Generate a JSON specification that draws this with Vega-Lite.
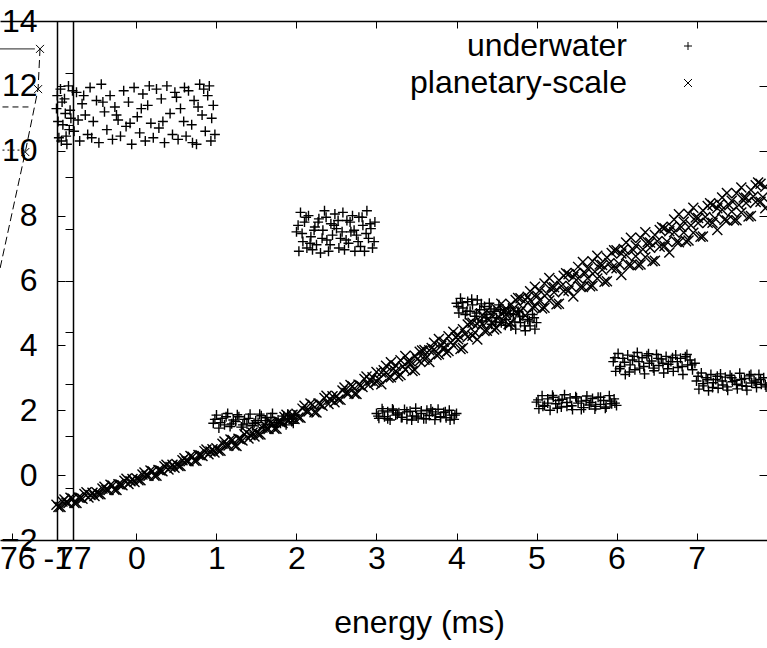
{
"$schema":"https://vega.github.io/schema/vega-lite/v6.json",
"width":767,"height":519,
"autosize":{"type":"none"},
"padding":{"left":0,"top":21,"right":0,"bottom":108},
"background":"white",
"config":{"view":{"stroke":null},"font":"Liberation Sans","axis":{"grid":false,"domainColor":"black","tickColor":"black","labelColor":"black","domainWidth":1.5,"tickWidth":1}},
"datasets":{
"pts":[
{"s":"u","x":-1.00,"y":11.3},{"s":"u","x":-0.97,"y":10.4},{"s":"u","x":-0.95,"y":11.9},{"s":"u","x":-0.92,"y":10.8},{"s":"u","x":-0.90,"y":11.6},{"s":"u","x":-0.87,"y":10.2},{"s":"u","x":-0.85,"y":12.0},{"s":"u","x":-0.82,"y":11.0},{"s":"u","x":-0.78,"y":10.6},{"s":"u","x":-0.75,"y":11.8},
{"s":"u","x":-0.71,"y":10.3},{"s":"u","x":-0.68,"y":11.45},{"s":"u","x":-0.64,"y":11.1},{"s":"u","x":-0.61,"y":10.5},{"s":"u","x":-0.58,"y":11.95},{"s":"u","x":-0.54,"y":10.9},{"s":"u","x":-0.50,"y":11.55},{"s":"u","x":-0.47,"y":10.25},{"s":"u","x":-0.44,"y":12.05},{"s":"u","x":-0.40,"y":11.2},
{"s":"u","x":-0.37,"y":10.65},{"s":"u","x":-0.33,"y":11.7},{"s":"u","x":-0.30,"y":10.35},{"s":"u","x":-0.27,"y":11.35},{"s":"u","x":-0.23,"y":10.95},{"s":"u","x":-0.20,"y":10.45},{"s":"u","x":-0.16,"y":11.85},{"s":"u","x":-0.13,"y":10.75},{"s":"u","x":-0.10,"y":11.5},{"s":"u","x":-0.06,"y":10.2},
{"s":"u","x":-0.03,"y":11.95},{"s":"u","x":0.01,"y":11.05},{"s":"u","x":0.04,"y":10.55},{"s":"u","x":0.08,"y":11.75},{"s":"u","x":0.11,"y":10.3},{"s":"u","x":0.14,"y":11.4},{"s":"u","x":0.18,"y":10.85},{"s":"u","x":0.21,"y":10.4},{"s":"u","x":0.25,"y":11.9},{"s":"u","x":0.28,"y":10.7},
{"s":"u","x":0.31,"y":11.6},{"s":"u","x":0.35,"y":10.25},{"s":"u","x":0.38,"y":12.0},{"s":"u","x":0.42,"y":11.15},{"s":"u","x":0.45,"y":10.5},{"s":"u","x":0.48,"y":11.8},{"s":"u","x":0.52,"y":10.35},{"s":"u","x":0.55,"y":11.3},{"s":"u","x":0.59,"y":10.9},{"s":"u","x":0.62,"y":10.45},
{"s":"u","x":0.65,"y":11.85},{"s":"u","x":0.69,"y":10.8},{"s":"u","x":0.72,"y":11.55},{"s":"u","x":0.75,"y":10.2},{"s":"u","x":0.79,"y":12.05},{"s":"u","x":0.82,"y":11.1},{"s":"u","x":0.86,"y":10.6},{"s":"u","x":0.89,"y":11.7},{"s":"u","x":0.93,"y":10.3},{"s":"u","x":0.96,"y":11.4},
{"s":"u","x":-0.98,"y":10.9},{"s":"u","x":-0.93,"y":11.5},{"s":"u","x":-0.88,"y":10.45},{"s":"u","x":-0.83,"y":11.25},{"s":"u","x":0.91,"y":12.0},{"s":"u","x":0.94,"y":11.0},
{"s":"u","x":-0.99,"y":11.7},{"s":"u","x":-0.94,"y":10.3},{"s":"u","x":-0.89,"y":11.15},{"s":"u","x":-0.84,"y":10.65},{"s":"u","x":-0.80,"y":11.85},{"s":"u","x":-0.73,"y":10.95},{"s":"u","x":-0.66,"y":11.7},{"s":"u","x":-0.56,"y":10.4},{"s":"u","x":-0.42,"y":11.5},{"s":"u","x":-0.25,"y":11.1},
{"s":"u","x":-0.08,"y":10.85},{"s":"u","x":0.06,"y":11.3},{"s":"u","x":0.16,"y":12.0},{"s":"u","x":0.33,"y":10.9},{"s":"u","x":0.50,"y":11.65},{"s":"u","x":0.60,"y":11.95},{"s":"u","x":0.70,"y":10.25},{"s":"u","x":0.77,"y":11.35},{"s":"u","x":0.84,"y":11.9},{"s":"u","x":0.98,"y":10.5},
{"s":"u","x":2.00,"y":7.5},{"s":"u","x":2.03,"y":6.9},{"s":"u","x":2.05,"y":8.1},{"s":"u","x":2.08,"y":7.2},{"s":"u","x":2.10,"y":7.8},{"s":"u","x":2.13,"y":7.0},{"s":"u","x":2.15,"y":8.0},{"s":"u","x":2.18,"y":7.35},{"s":"u","x":2.20,"y":6.95},{"s":"u","x":2.23,"y":7.65},
{"s":"u","x":2.25,"y":7.1},{"s":"u","x":2.28,"y":7.9},{"s":"u","x":2.30,"y":6.85},{"s":"u","x":2.33,"y":7.55},{"s":"u","x":2.35,"y":8.15},{"s":"u","x":2.38,"y":7.25},{"s":"u","x":2.40,"y":6.9},{"s":"u","x":2.43,"y":7.75},{"s":"u","x":2.45,"y":7.4},{"s":"u","x":2.48,"y":8.05},
{"s":"u","x":2.50,"y":7.6},{"s":"u","x":2.53,"y":7.0},{"s":"u","x":2.55,"y":7.3},{"s":"u","x":2.58,"y":8.1},{"s":"u","x":2.60,"y":6.95},{"s":"u","x":2.63,"y":7.85},{"s":"u","x":2.65,"y":7.15},{"s":"u","x":2.68,"y":7.5},{"s":"u","x":2.70,"y":8.0},{"s":"u","x":2.73,"y":6.9},
{"s":"u","x":2.75,"y":7.4},{"s":"u","x":2.78,"y":7.95},{"s":"u","x":2.80,"y":7.05},{"s":"u","x":2.83,"y":7.7},{"s":"u","x":2.85,"y":6.9},{"s":"u","x":2.88,"y":8.15},{"s":"u","x":2.90,"y":7.3},{"s":"u","x":2.93,"y":7.6},{"s":"u","x":2.95,"y":7.0},{"s":"u","x":2.98,"y":7.8},
{"s":"u","x":2.02,"y":7.7},{"s":"u","x":2.07,"y":7.45},{"s":"u","x":2.12,"y":7.95},{"s":"u","x":2.17,"y":7.15},{"s":"u","x":2.22,"y":7.55},{"s":"u","x":2.27,"y":7.8},{"s":"u","x":2.32,"y":7.3},{"s":"u","x":2.37,"y":7.95},{"s":"u","x":2.42,"y":7.1},{"s":"u","x":2.47,"y":7.7},
{"s":"u","x":2.52,"y":7.85},{"s":"u","x":2.57,"y":7.5},{"s":"u","x":2.62,"y":7.25},{"s":"u","x":2.67,"y":7.8},{"s":"u","x":2.72,"y":7.55},{"s":"u","x":2.77,"y":7.2},{"s":"u","x":2.82,"y":7.95},{"s":"u","x":2.87,"y":7.45},{"s":"u","x":2.92,"y":7.75},{"s":"u","x":2.97,"y":7.2},
{"s":"u","x":0.96,"y":1.6},{"s":"u","x":1.00,"y":1.85},{"s":"u","x":1.03,"y":1.45},{"s":"u","x":1.07,"y":1.75},{"s":"u","x":1.10,"y":1.55},{"s":"u","x":1.14,"y":1.9},{"s":"u","x":1.17,"y":1.5},{"s":"u","x":1.21,"y":1.7},
{"s":"u","x":1.24,"y":1.65},{"s":"u","x":1.28,"y":1.8},{"s":"u","x":1.31,"y":1.48},{"s":"u","x":1.35,"y":1.72},{"s":"u","x":1.38,"y":1.58},{"s":"u","x":1.42,"y":1.88},{"s":"u","x":1.45,"y":1.52},{"s":"u","x":1.49,"y":1.68},
{"s":"u","x":1.52,"y":1.62},{"s":"u","x":1.56,"y":1.83},{"s":"u","x":1.59,"y":1.46},{"s":"u","x":1.63,"y":1.77},{"s":"u","x":1.66,"y":1.56},{"s":"u","x":1.70,"y":1.9},{"s":"u","x":1.73,"y":1.5},{"s":"u","x":1.77,"y":1.7},
{"s":"u","x":1.80,"y":1.6},{"s":"u","x":1.84,"y":1.82},{"s":"u","x":1.87,"y":1.55},{"s":"u","x":1.91,"y":1.75},{"s":"u","x":1.94,"y":1.65},{"s":"u","x":1.98,"y":1.85},
{"s":"u","x":0.98,"y":1.72},{"s":"u","x":1.05,"y":1.62},{"s":"u","x":1.12,"y":1.8},{"s":"u","x":1.19,"y":1.58},{"s":"u","x":1.26,"y":1.86},{"s":"u","x":1.33,"y":1.55},{"s":"u","x":1.40,"y":1.75},{"s":"u","x":1.47,"y":1.6},{"s":"u","x":1.54,"y":1.88},{"s":"u","x":1.61,"y":1.68},
{"s":"u","x":1.68,"y":1.78},{"s":"u","x":1.75,"y":1.62},{"s":"u","x":1.82,"y":1.72},{"s":"u","x":1.89,"y":1.88},{"s":"u","x":1.96,"y":1.6},
{"s":"u","x":3.00,"y":1.9},{"s":"u","x":3.03,"y":1.75},{"s":"u","x":3.07,"y":2.05},{"s":"u","x":3.10,"y":1.8},{"s":"u","x":3.14,"y":1.95},{"s":"u","x":3.17,"y":1.7},{"s":"u","x":3.21,"y":2.0},{"s":"u","x":3.24,"y":1.85},
{"s":"u","x":3.28,"y":1.92},{"s":"u","x":3.31,"y":1.78},{"s":"u","x":3.35,"y":2.02},{"s":"u","x":3.38,"y":1.72},{"s":"u","x":3.42,"y":1.97},{"s":"u","x":3.45,"y":1.82},{"s":"u","x":3.49,"y":2.06},{"s":"u","x":3.52,"y":1.76},
{"s":"u","x":3.56,"y":1.9},{"s":"u","x":3.59,"y":1.74},{"s":"u","x":3.63,"y":2.0},{"s":"u","x":3.66,"y":1.84},{"s":"u","x":3.70,"y":1.95},{"s":"u","x":3.73,"y":1.71},{"s":"u","x":3.77,"y":2.03},{"s":"u","x":3.80,"y":1.8},
{"s":"u","x":3.84,"y":1.93},{"s":"u","x":3.87,"y":1.77},{"s":"u","x":3.91,"y":2.0},{"s":"u","x":3.94,"y":1.85},{"s":"u","x":3.97,"y":1.72},{"s":"u","x":4.00,"y":1.9},
{"s":"u","x":3.02,"y":1.82},{"s":"u","x":3.08,"y":1.98},{"s":"u","x":3.14,"y":1.74},{"s":"u","x":3.20,"y":2.04},{"s":"u","x":3.26,"y":1.88},{"s":"u","x":3.32,"y":1.78},{"s":"u","x":3.38,"y":1.95},{"s":"u","x":3.44,"y":1.7},{"s":"u","x":3.50,"y":1.82},
{"s":"u","x":3.56,"y":1.98},{"s":"u","x":3.62,"y":1.74},{"s":"u","x":3.68,"y":2.04},{"s":"u","x":3.74,"y":1.88},{"s":"u","x":3.80,"y":1.78},{"s":"u","x":3.86,"y":1.95},{"s":"u","x":3.92,"y":1.7},{"s":"u","x":3.98,"y":1.85},
{"s":"u","x":4.00,"y":5.3},{"s":"u","x":4.03,"y":5.0},{"s":"u","x":4.05,"y":5.45},{"s":"u","x":4.08,"y":5.15},{"s":"u","x":4.11,"y":4.95},{"s":"u","x":4.14,"y":5.35},{"s":"u","x":4.17,"y":5.05},{"s":"u","x":4.20,"y":5.25},{"s":"u","x":4.23,"y":4.9},{"s":"u","x":4.26,"y":5.4},
{"s":"u","x":4.29,"y":5.1},{"s":"u","x":4.32,"y":4.75},{"s":"u","x":4.35,"y":5.2},{"s":"u","x":4.38,"y":4.95},{"s":"u","x":4.41,"y":5.3},{"s":"u","x":4.44,"y":4.65},{"s":"u","x":4.47,"y":5.05},{"s":"u","x":4.50,"y":4.85},{"s":"u","x":4.53,"y":5.25},{"s":"u","x":4.56,"y":4.7},
{"s":"u","x":4.59,"y":5.0},{"s":"u","x":4.62,"y":4.8},{"s":"u","x":4.65,"y":5.15},{"s":"u","x":4.68,"y":4.6},{"s":"u","x":4.71,"y":4.95},{"s":"u","x":4.74,"y":4.5},{"s":"u","x":4.77,"y":5.05},{"s":"u","x":4.80,"y":4.7},{"s":"u","x":4.83,"y":4.9},{"s":"u","x":4.86,"y":4.45},
{"s":"u","x":4.89,"y":4.8},{"s":"u","x":4.92,"y":4.6},{"s":"u","x":4.95,"y":4.95},{"s":"u","x":4.98,"y":4.5},{"s":"u","x":5.00,"y":4.7},
{"s":"u","x":4.02,"y":5.2},{"s":"u","x":4.07,"y":5.32},{"s":"u","x":4.13,"y":5.05},{"s":"u","x":4.19,"y":5.42},{"s":"u","x":4.25,"y":5.0},{"s":"u","x":4.31,"y":5.28},{"s":"u","x":4.37,"y":4.85},{"s":"u","x":4.43,"y":5.12},{"s":"u","x":4.49,"y":4.72},
{"s":"u","x":4.55,"y":5.1},{"s":"u","x":4.61,"y":4.62},{"s":"u","x":4.67,"y":4.98},{"s":"u","x":4.73,"y":4.72},{"s":"u","x":4.79,"y":4.88},{"s":"u","x":4.85,"y":4.6},{"s":"u","x":4.91,"y":4.75},{"s":"u","x":4.97,"y":4.85},
{"s":"u","x":5.00,"y":2.25},{"s":"u","x":5.03,"y":2.05},{"s":"u","x":5.07,"y":2.45},{"s":"u","x":5.10,"y":2.15},{"s":"u","x":5.14,"y":2.35},{"s":"u","x":5.17,"y":2.0},{"s":"u","x":5.21,"y":2.4},{"s":"u","x":5.24,"y":2.2},
{"s":"u","x":5.28,"y":2.3},{"s":"u","x":5.31,"y":2.1},{"s":"u","x":5.35,"y":2.48},{"s":"u","x":5.38,"y":2.12},{"s":"u","x":5.42,"y":2.38},{"s":"u","x":5.45,"y":2.02},{"s":"u","x":5.49,"y":2.42},{"s":"u","x":5.52,"y":2.22},
{"s":"u","x":5.56,"y":2.28},{"s":"u","x":5.59,"y":2.08},{"s":"u","x":5.63,"y":2.44},{"s":"u","x":5.66,"y":2.16},{"s":"u","x":5.70,"y":2.36},{"s":"u","x":5.73,"y":2.04},{"s":"u","x":5.77,"y":2.4},{"s":"u","x":5.80,"y":2.18},
{"s":"u","x":5.84,"y":2.3},{"s":"u","x":5.87,"y":2.1},{"s":"u","x":5.91,"y":2.45},{"s":"u","x":5.94,"y":2.2},{"s":"u","x":5.97,"y":2.35},{"s":"u","x":6.00,"y":2.15},
{"s":"u","x":5.02,"y":2.32},{"s":"u","x":5.08,"y":2.12},{"s":"u","x":5.14,"y":2.22},{"s":"u","x":5.20,"y":2.46},{"s":"u","x":5.26,"y":2.06},{"s":"u","x":5.32,"y":2.34},{"s":"u","x":5.38,"y":2.24},{"s":"u","x":5.44,"y":2.14},{"s":"u","x":5.50,"y":2.38},
{"s":"u","x":5.56,"y":2.02},{"s":"u","x":5.62,"y":2.3},{"s":"u","x":5.68,"y":2.24},{"s":"u","x":5.74,"y":2.12},{"s":"u","x":5.80,"y":2.4},{"s":"u","x":5.86,"y":2.06},{"s":"u","x":5.92,"y":2.28},{"s":"u","x":5.98,"y":2.22},
{"s":"u","x":5.96,"y":3.5},{"s":"u","x":5.99,"y":3.2},{"s":"u","x":6.02,"y":3.75},{"s":"u","x":6.05,"y":3.35},{"s":"u","x":6.08,"y":3.6},{"s":"u","x":6.11,"y":3.1},{"s":"u","x":6.14,"y":3.7},{"s":"u","x":6.17,"y":3.4},
{"s":"u","x":6.20,"y":3.55},{"s":"u","x":6.23,"y":3.25},{"s":"u","x":6.26,"y":3.78},{"s":"u","x":6.29,"y":3.3},{"s":"u","x":6.32,"y":3.62},{"s":"u","x":6.35,"y":3.12},{"s":"u","x":6.38,"y":3.68},{"s":"u","x":6.41,"y":3.45},
{"s":"u","x":6.44,"y":3.52},{"s":"u","x":6.47,"y":3.22},{"s":"u","x":6.50,"y":3.72},{"s":"u","x":6.53,"y":3.38},{"s":"u","x":6.56,"y":3.58},{"s":"u","x":6.59,"y":3.15},{"s":"u","x":6.62,"y":3.66},{"s":"u","x":6.65,"y":3.42},
{"s":"u","x":6.68,"y":3.5},{"s":"u","x":6.71,"y":3.2},{"s":"u","x":6.74,"y":3.7},{"s":"u","x":6.77,"y":3.32},{"s":"u","x":6.80,"y":3.6},{"s":"u","x":6.83,"y":3.1},{"s":"u","x":6.86,"y":3.65},{"s":"u","x":6.89,"y":3.4},{"s":"u","x":6.92,"y":3.55},{"s":"u","x":6.95,"y":3.25},{"s":"u","x":6.98,"y":3.45},
{"s":"u","x":5.98,"y":3.62},{"s":"u","x":6.04,"y":3.28},{"s":"u","x":6.10,"y":3.48},{"s":"u","x":6.16,"y":3.18},{"s":"u","x":6.22,"y":3.66},{"s":"u","x":6.28,"y":3.5},{"s":"u","x":6.34,"y":3.35},{"s":"u","x":6.40,"y":3.74},{"s":"u","x":6.46,"y":3.3},
{"s":"u","x":6.52,"y":3.6},{"s":"u","x":6.58,"y":3.45},{"s":"u","x":6.64,"y":3.28},{"s":"u","x":6.70,"y":3.62},{"s":"u","x":6.76,"y":3.5},{"s":"u","x":6.82,"y":3.35},{"s":"u","x":6.88,"y":3.72},{"s":"u","x":6.94,"y":3.4},
{"s":"u","x":7.00,"y":2.9},{"s":"u","x":7.03,"y":2.65},{"s":"u","x":7.06,"y":3.15},{"s":"u","x":7.09,"y":2.75},{"s":"u","x":7.12,"y":3.0},{"s":"u","x":7.15,"y":2.6},{"s":"u","x":7.18,"y":3.1},{"s":"u","x":7.21,"y":2.85},
{"s":"u","x":7.24,"y":2.95},{"s":"u","x":7.27,"y":2.68},{"s":"u","x":7.30,"y":3.12},{"s":"u","x":7.33,"y":2.78},{"s":"u","x":7.36,"y":3.02},{"s":"u","x":7.39,"y":2.62},{"s":"u","x":7.42,"y":3.08},{"s":"u","x":7.45,"y":2.88},
{"s":"u","x":7.48,"y":2.92},{"s":"u","x":7.51,"y":2.66},{"s":"u","x":7.54,"y":3.14},{"s":"u","x":7.57,"y":2.76},{"s":"u","x":7.60,"y":2.98},{"s":"u","x":7.63,"y":2.62},{"s":"u","x":7.66,"y":3.06},{"s":"u","x":7.69,"y":2.84},
{"s":"u","x":7.72,"y":2.9},{"s":"u","x":7.75,"y":2.7},{"s":"u","x":7.78,"y":3.1},{"s":"u","x":7.81,"y":2.8},{"s":"u","x":7.84,"y":3.0},{"s":"u","x":7.87,"y":2.72},
{"s":"u","x":7.02,"y":3.05},{"s":"u","x":7.08,"y":2.82},{"s":"u","x":7.14,"y":2.94},{"s":"u","x":7.20,"y":2.7},{"s":"u","x":7.26,"y":3.05},{"s":"u","x":7.32,"y":2.9},{"s":"u","x":7.38,"y":2.72},{"s":"u","x":7.44,"y":3.0},
{"s":"u","x":7.50,"y":2.8},{"s":"u","x":7.56,"y":2.95},{"s":"u","x":7.62,"y":2.74},{"s":"u","x":7.68,"y":3.1},{"s":"u","x":7.74,"y":2.86},{"s":"u","x":7.80,"y":2.95},{"s":"u","x":7.86,"y":2.78},
{"s":"p","x":-1.00,"y":-0.91},{"s":"p","x":-0.95,"y":-0.98},{"s":"p","x":-0.90,"y":-0.75},{"s":"p","x":-0.85,"y":-0.86},{"s":"p","x":-0.80,"y":-0.72},{"s":"p","x":-0.75,"y":-0.86},{"s":"p","x":-0.70,"y":-0.70},{"s":"p","x":-0.65,"y":-0.58},{"s":"p","x":-0.60,"y":-0.69},{"s":"p","x":-0.55,"y":-0.54},
{"s":"p","x":-0.50,"y":-0.53},{"s":"p","x":-0.45,"y":-0.59},{"s":"p","x":-0.40,"y":-0.36},{"s":"p","x":-0.35,"y":-0.46},{"s":"p","x":-0.30,"y":-0.32},{"s":"p","x":-0.25,"y":-0.46},{"s":"p","x":-0.20,"y":-0.29},{"s":"p","x":-0.15,"y":-0.17},{"s":"p","x":-0.10,"y":-0.27},{"s":"p","x":-0.05,"y":-0.12},
{"s":"p","x":0.00,"y":-0.10},{"s":"p","x":0.05,"y":-0.16},{"s":"p","x":0.10,"y":0.08},{"s":"p","x":0.15,"y":-0.02},{"s":"p","x":0.20,"y":0.12},{"s":"p","x":0.25,"y":-0.02},{"s":"p","x":0.30,"y":0.14},{"s":"p","x":0.35,"y":0.27},{"s":"p","x":0.40,"y":0.17},{"s":"p","x":0.45,"y":0.32},
{"s":"p","x":0.50,"y":0.34},{"s":"p","x":0.55,"y":0.28},{"s":"p","x":0.60,"y":0.52},{"s":"p","x":0.65,"y":0.43},{"s":"p","x":0.70,"y":0.57},{"s":"p","x":0.75,"y":0.44},{"s":"p","x":0.80,"y":0.61},{"s":"p","x":0.85,"y":0.74},{"s":"p","x":0.90,"y":0.64},{"s":"p","x":0.95,"y":0.80},
{"s":"p","x":1.00,"y":0.83},{"s":"p","x":1.05,"y":0.75},{"s":"p","x":1.10,"y":1.04},{"s":"p","x":1.15,"y":0.91},{"s":"p","x":1.20,"y":1.08},{"s":"p","x":1.25,"y":0.90},{"s":"p","x":1.30,"y":1.10},{"s":"p","x":1.35,"y":1.26},{"s":"p","x":1.40,"y":1.13},{"s":"p","x":1.45,"y":1.31},
{"s":"p","x":1.50,"y":1.33},{"s":"p","x":1.55,"y":1.25},{"s":"p","x":1.60,"y":1.55},{"s":"p","x":1.65,"y":1.42},{"s":"p","x":1.70,"y":1.60},{"s":"p","x":1.75,"y":1.43},{"s":"p","x":1.80,"y":1.63},{"s":"p","x":1.85,"y":1.79},{"s":"p","x":1.90,"y":1.67},{"s":"p","x":1.95,"y":1.86},
{"s":"p","x":2.00,"y":1.89},{"s":"p","x":2.05,"y":1.77},{"s":"p","x":2.10,"y":2.14},{"s":"p","x":2.15,"y":1.96},{"s":"p","x":2.20,"y":2.17},{"s":"p","x":2.25,"y":1.93},{"s":"p","x":2.30,"y":2.18},{"s":"p","x":2.35,"y":2.38},{"s":"p","x":2.40,"y":2.19},{"s":"p","x":2.45,"y":2.43},
{"s":"p","x":2.50,"y":2.44},{"s":"p","x":2.55,"y":2.32},{"s":"p","x":2.60,"y":2.70},{"s":"p","x":2.65,"y":2.52},{"s":"p","x":2.70,"y":2.74},{"s":"p","x":2.75,"y":2.50},{"s":"p","x":2.80,"y":2.76},{"s":"p","x":2.85,"y":2.96},{"s":"p","x":2.90,"y":2.78},{"s":"p","x":2.95,"y":3.02},
{"s":"p","x":-0.975,"y":-0.98},{"s":"p","x":-0.925,"y":-0.81},{"s":"p","x":-0.875,"y":-0.85},{"s":"p","x":-0.825,"y":-0.70},{"s":"p","x":-0.775,"y":-0.86},{"s":"p","x":-0.725,"y":-0.69},{"s":"p","x":-0.675,"y":-0.73},{"s":"p","x":-0.625,"y":-0.53},{"s":"p","x":-0.575,"y":-0.61},{"s":"p","x":-0.525,"y":-0.64},
{"s":"p","x":-0.475,"y":-0.59},{"s":"p","x":-0.425,"y":-0.41},{"s":"p","x":-0.375,"y":-0.46},{"s":"p","x":-0.325,"y":-0.30},{"s":"p","x":-0.275,"y":-0.45},{"s":"p","x":-0.225,"y":-0.28},{"s":"p","x":-0.175,"y":-0.31},{"s":"p","x":-0.125,"y":-0.11},{"s":"p","x":-0.075,"y":-0.19},{"s":"p","x":-0.025,"y":-0.21},
{"s":"p","x":0.025,"y":-0.16},{"s":"p","x":0.075,"y":0.02},{"s":"p","x":0.125,"y":-0.02},{"s":"p","x":0.175,"y":0.14},{"s":"p","x":0.225,"y":-0.02},{"s":"p","x":0.275,"y":0.16},{"s":"p","x":0.325,"y":0.12},{"s":"p","x":0.375,"y":0.32},{"s":"p","x":0.425,"y":0.25},{"s":"p","x":0.475,"y":0.23},
{"s":"p","x":0.525,"y":0.28},{"s":"p","x":0.575,"y":0.46},{"s":"p","x":0.625,"y":0.43},{"s":"p","x":0.675,"y":0.59},{"s":"p","x":0.725,"y":0.44},{"s":"p","x":0.775,"y":0.62},{"s":"p","x":0.825,"y":0.59},{"s":"p","x":0.875,"y":0.79},{"s":"p","x":0.925,"y":0.73},{"s":"p","x":0.975,"y":0.70},
{"s":"p","x":1.025,"y":0.75},{"s":"p","x":1.075,"y":0.97},{"s":"p","x":1.125,"y":0.91},{"s":"p","x":1.175,"y":1.10},{"s":"p","x":1.225,"y":0.91},{"s":"p","x":1.275,"y":1.12},{"s":"p","x":1.325,"y":1.07},{"s":"p","x":1.375,"y":1.32},{"s":"p","x":1.425,"y":1.23},{"s":"p","x":1.475,"y":1.19},
{"s":"p","x":1.525,"y":1.25},{"s":"p","x":1.575,"y":1.47},{"s":"p","x":1.625,"y":1.42},{"s":"p","x":1.675,"y":1.62},{"s":"p","x":1.725,"y":1.43},{"s":"p","x":1.775,"y":1.65},{"s":"p","x":1.825,"y":1.61},{"s":"p","x":1.875,"y":1.86},{"s":"p","x":1.925,"y":1.77},{"s":"p","x":1.975,"y":1.73},
{"s":"p","x":2.025,"y":1.78},{"s":"p","x":2.075,"y":2.05},{"s":"p","x":2.125,"y":1.97},{"s":"p","x":2.175,"y":2.21},{"s":"p","x":2.225,"y":1.94},{"s":"p","x":2.275,"y":2.21},{"s":"p","x":2.325,"y":2.14},{"s":"p","x":2.375,"y":2.45},{"s":"p","x":2.425,"y":2.32},{"s":"p","x":2.475,"y":2.25},
{"s":"p","x":2.525,"y":2.33},{"s":"p","x":2.575,"y":2.61},{"s":"p","x":2.625,"y":2.53},{"s":"p","x":2.675,"y":2.78},{"s":"p","x":2.725,"y":2.51},{"s":"p","x":2.775,"y":2.79},{"s":"p","x":2.825,"y":2.72},{"s":"p","x":2.875,"y":3.04},{"s":"p","x":2.925,"y":2.91},{"s":"p","x":2.975,"y":2.85},
{"s":"p","x":3.00,"y":3.18},{"s":"p","x":3.00,"y":2.88},{"s":"p","x":3.06,"y":2.80},{"s":"p","x":3.06,"y":3.16},{"s":"p","x":3.12,"y":3.16},{"s":"p","x":3.12,"y":3.37},{"s":"p","x":3.18,"y":3.02},{"s":"p","x":3.18,"y":3.48},{"s":"p","x":3.24,"y":3.38},{"s":"p","x":3.24,"y":3.20},
{"s":"p","x":3.30,"y":3.09},{"s":"p","x":3.30,"y":3.54},{"s":"p","x":3.36,"y":3.67},{"s":"p","x":3.36,"y":3.25},{"s":"p","x":3.42,"y":3.43},{"s":"p","x":3.42,"y":3.52},{"s":"p","x":3.48,"y":3.68},{"s":"p","x":3.48,"y":3.24},{"s":"p","x":3.54,"y":3.51},{"s":"p","x":3.54,"y":3.80},
{"s":"p","x":3.60,"y":3.86},{"s":"p","x":3.60,"y":3.56},{"s":"p","x":3.66,"y":3.49},{"s":"p","x":3.66,"y":3.85},{"s":"p","x":3.72,"y":3.87},{"s":"p","x":3.72,"y":4.08},{"s":"p","x":3.78,"y":3.73},{"s":"p","x":3.78,"y":4.20},{"s":"p","x":3.84,"y":4.11},{"s":"p","x":3.84,"y":3.93},
{"s":"p","x":3.90,"y":3.83},{"s":"p","x":3.90,"y":4.28},{"s":"p","x":3.96,"y":4.42},{"s":"p","x":3.96,"y":4.00},{"s":"p","x":4.02,"y":4.19},{"s":"p","x":4.02,"y":4.31},{"s":"p","x":4.08,"y":4.50},{"s":"p","x":4.08,"y":3.92},{"s":"p","x":4.14,"y":4.26},{"s":"p","x":4.14,"y":4.64},
{"s":"p","x":4.20,"y":4.70},{"s":"p","x":4.20,"y":4.30},{"s":"p","x":4.26,"y":4.18},{"s":"p","x":4.26,"y":4.66},{"s":"p","x":4.32,"y":4.66},{"s":"p","x":4.32,"y":4.94},{"s":"p","x":4.38,"y":4.45},{"s":"p","x":4.38,"y":5.07},{"s":"p","x":4.44,"y":4.93},{"s":"p","x":4.44,"y":4.69},
{"s":"p","x":4.50,"y":4.53},{"s":"p","x":4.50,"y":5.13},{"s":"p","x":4.56,"y":5.28},{"s":"p","x":4.56,"y":4.72},{"s":"p","x":4.62,"y":4.95},{"s":"p","x":4.62,"y":5.07},{"s":"p","x":4.68,"y":5.27},{"s":"p","x":4.68,"y":4.69},{"s":"p","x":4.74,"y":5.02},{"s":"p","x":4.74,"y":5.40},
{"s":"p","x":4.80,"y":5.45},{"s":"p","x":4.80,"y":5.05},{"s":"p","x":4.86,"y":4.92},{"s":"p","x":4.86,"y":5.40},{"s":"p","x":4.92,"y":5.39},{"s":"p","x":4.92,"y":5.67},{"s":"p","x":4.98,"y":5.19},{"s":"p","x":4.98,"y":5.81},{"s":"p","x":5.04,"y":5.69},{"s":"p","x":5.04,"y":5.39},
{"s":"p","x":5.10,"y":5.16},{"s":"p","x":5.10,"y":5.91},{"s":"p","x":5.16,"y":6.08},{"s":"p","x":5.16,"y":5.38},{"s":"p","x":5.22,"y":5.64},{"s":"p","x":5.22,"y":5.79},{"s":"p","x":5.28,"y":6.01},{"s":"p","x":5.28,"y":5.28},{"s":"p","x":5.34,"y":5.67},{"s":"p","x":5.34,"y":6.15},
{"s":"p","x":5.40,"y":6.19},{"s":"p","x":5.40,"y":5.69},{"s":"p","x":5.46,"y":5.51},{"s":"p","x":5.46,"y":6.11},{"s":"p","x":5.52,"y":6.07},{"s":"p","x":5.52,"y":6.42},{"s":"p","x":5.58,"y":5.80},{"s":"p","x":5.58,"y":6.57},{"s":"p","x":5.64,"y":6.37},{"s":"p","x":5.64,"y":6.07},
{"s":"p","x":5.70,"y":5.84},{"s":"p","x":5.70,"y":6.59},{"s":"p","x":5.76,"y":6.76},{"s":"p","x":5.76,"y":6.06},{"s":"p","x":5.82,"y":6.33},{"s":"p","x":5.82,"y":6.48},{"s":"p","x":5.88,"y":6.71},{"s":"p","x":5.88,"y":5.98},{"s":"p","x":5.94,"y":6.38},{"s":"p","x":5.94,"y":6.85},
{"s":"p","x":6.00,"y":6.93},{"s":"p","x":6.00,"y":6.38},{"s":"p","x":6.06,"y":6.17},{"s":"p","x":6.06,"y":6.83},{"s":"p","x":6.12,"y":6.79},{"s":"p","x":6.12,"y":7.17},{"s":"p","x":6.18,"y":6.47},{"s":"p","x":6.18,"y":7.32},{"s":"p","x":6.24,"y":7.08},{"s":"p","x":6.24,"y":6.75},
{"s":"p","x":6.30,"y":6.49},{"s":"p","x":6.30,"y":7.32},{"s":"p","x":6.36,"y":7.49},{"s":"p","x":6.36,"y":6.72},{"s":"p","x":6.42,"y":7.01},{"s":"p","x":6.42,"y":7.17},{"s":"p","x":6.48,"y":7.40},{"s":"p","x":6.48,"y":6.61},{"s":"p","x":6.54,"y":7.04},{"s":"p","x":6.54,"y":7.56},
{"s":"p","x":6.60,"y":7.61},{"s":"p","x":6.60,"y":7.06},{"s":"p","x":6.66,"y":6.86},{"s":"p","x":6.66,"y":7.52},{"s":"p","x":6.72,"y":7.49},{"s":"p","x":6.72,"y":7.88},{"s":"p","x":6.78,"y":7.18},{"s":"p","x":6.78,"y":8.04},{"s":"p","x":6.84,"y":7.81},{"s":"p","x":6.84,"y":7.48},
{"s":"p","x":6.90,"y":7.23},{"s":"p","x":6.90,"y":8.06},{"s":"p","x":6.96,"y":8.24},{"s":"p","x":6.96,"y":7.47},{"s":"p","x":7.02,"y":7.77},{"s":"p","x":7.02,"y":7.93},{"s":"p","x":7.08,"y":8.16},{"s":"p","x":7.08,"y":7.36},{"s":"p","x":7.14,"y":7.78},{"s":"p","x":7.14,"y":8.30},
{"s":"p","x":7.20,"y":8.33},{"s":"p","x":7.20,"y":7.78},{"s":"p","x":7.26,"y":7.56},{"s":"p","x":7.26,"y":8.23},{"s":"p","x":7.32,"y":8.18},{"s":"p","x":7.32,"y":8.56},{"s":"p","x":7.38,"y":7.85},{"s":"p","x":7.38,"y":8.70},{"s":"p","x":7.44,"y":8.46},{"s":"p","x":7.44,"y":8.13},
{"s":"p","x":7.50,"y":7.86},{"s":"p","x":7.50,"y":8.69},{"s":"p","x":7.56,"y":8.87},{"s":"p","x":7.56,"y":8.10},{"s":"p","x":7.62,"y":8.39},{"s":"p","x":7.62,"y":8.55},{"s":"p","x":7.68,"y":8.79},{"s":"p","x":7.68,"y":7.99},{"s":"p","x":7.74,"y":8.42},{"s":"p","x":7.74,"y":8.94},
{"s":"p","x":7.80,"y":8.98},{"s":"p","x":7.80,"y":8.43},{"s":"p","x":7.86,"y":8.23},{"s":"p","x":7.86,"y":8.89},
{"s":"p","x":3.03,"y":2.96},{"s":"p","x":3.09,"y":3.23},{"s":"p","x":3.15,"y":3.00},{"s":"p","x":3.21,"y":3.27},{"s":"p","x":3.27,"y":3.05},{"s":"p","x":3.33,"y":3.35},{"s":"p","x":3.39,"y":3.50},{"s":"p","x":3.45,"y":3.21},{"s":"p","x":3.51,"y":3.57},{"s":"p","x":3.57,"y":3.84},
{"s":"p","x":3.63,"y":3.64},{"s":"p","x":3.69,"y":3.92},{"s":"p","x":3.75,"y":3.70},{"s":"p","x":3.81,"y":3.99},{"s":"p","x":3.87,"y":3.78},{"s":"p","x":3.93,"y":4.09},{"s":"p","x":3.99,"y":4.25},{"s":"p","x":4.05,"y":3.89},{"s":"p","x":4.11,"y":4.36},{"s":"p","x":4.17,"y":4.70},
{"s":"p","x":4.23,"y":4.40},{"s":"p","x":4.29,"y":4.76},{"s":"p","x":4.35,"y":4.44},{"s":"p","x":4.41,"y":4.79},{"s":"p","x":4.47,"y":4.49},{"s":"p","x":4.53,"y":4.87},{"s":"p","x":4.59,"y":5.06},{"s":"p","x":4.65,"y":4.65},{"s":"p","x":4.71,"y":5.13},{"s":"p","x":4.77,"y":5.46},
{"s":"p","x":4.83,"y":5.15},{"s":"p","x":4.89,"y":5.50},{"s":"p","x":4.95,"y":5.17},{"s":"p","x":5.01,"y":5.53},{"s":"p","x":5.07,"y":5.14},{"s":"p","x":5.13,"y":5.59},{"s":"p","x":5.19,"y":5.80},{"s":"p","x":5.25,"y":5.27},{"s":"p","x":5.31,"y":5.83},{"s":"p","x":5.37,"y":6.22},
{"s":"p","x":5.43,"y":5.82},{"s":"p","x":5.49,"y":6.23},{"s":"p","x":5.55,"y":5.80},{"s":"p","x":5.61,"y":6.22},{"s":"p","x":5.67,"y":5.82},{"s":"p","x":5.73,"y":6.27},{"s":"p","x":5.79,"y":6.49},{"s":"p","x":5.85,"y":5.96},{"s":"p","x":5.91,"y":6.53},{"s":"p","x":5.97,"y":6.93},
{"s":"p","x":6.03,"y":6.52},{"s":"p","x":6.09,"y":6.97},{"s":"p","x":6.15,"y":6.48},{"s":"p","x":6.21,"y":6.94},{"s":"p","x":6.27,"y":6.48},{"s":"p","x":6.33,"y":6.96},{"s":"p","x":6.39,"y":7.19},{"s":"p","x":6.45,"y":6.59},{"s":"p","x":6.51,"y":7.21},{"s":"p","x":6.57,"y":7.64},
{"s":"p","x":6.63,"y":7.20},{"s":"p","x":6.69,"y":7.66},{"s":"p","x":6.75,"y":7.19},{"s":"p","x":6.81,"y":7.65},{"s":"p","x":6.87,"y":7.21},{"s":"p","x":6.93,"y":7.70},{"s":"p","x":6.99,"y":7.94},{"s":"p","x":7.05,"y":7.35},{"s":"p","x":7.11,"y":7.96},{"s":"p","x":7.17,"y":8.38},
{"s":"p","x":7.23,"y":7.92},{"s":"p","x":7.29,"y":8.36},{"s":"p","x":7.35,"y":7.87},{"s":"p","x":7.41,"y":8.32},{"s":"p","x":7.47,"y":7.86},{"s":"p","x":7.53,"y":8.33},{"s":"p","x":7.59,"y":8.56},{"s":"p","x":7.65,"y":7.97},{"s":"p","x":7.71,"y":8.59},{"s":"p","x":7.77,"y":9.02},
{"s":"p","x":7.83,"y":8.57}
],
"junk":[{"x":-1.8,"y":5.3},{"x":-1.39,"y":9.96},{"x":-1.23,"y":11.9},{"x":-1.206,"y":13.14}],
"stubs":[{"x":-1.8,"x2":-1.27,"y":13.14,"d":"a"},{"x":-1.8,"x2":-1.32,"y":11.35,"d":"b"},{"x":-1.8,"x2":-1.4,"y":10.02,"d":"c"}]
},
"layer":[
{
"data":{"name":"pts"},
"mark":{"type":"point","filled":false,"stroke":"black","strokeWidth":1.4,"size":100,"opacity":1,"clip":true},
"encoding":{
"x":{"field":"x","type":"quantitative","scale":{"domain":[-1.706,7.881],"nice":false,"zero":false},
"axis":{"orient":"bottom","title":"energy (ms)","values":[-1.556,-0.99,-0.79,0,1,2,3,4,5,6,7],
"labelExpr":"datum.value < -1.5 ? '-76' : datum.value < -0.9 ? '-1' : datum.value < -0.5 ? '77' : datum.label",
"tickSize":-7,"labelPadding":10,"labelDx":4,"labelFont":"Liberation Sans","labelFontSize":32,"labelOverlap":false,"labelFlush":false,"labelBound":false,
"titleFont":"Liberation Sans","titleFontSize":32,"titleFontWeight":"normal","titleColor":"black","titleX":419,"titleY":92,"titleBaseline":"alphabetic","titleAlign":"center","titleAnchor":null}},
"y":{"field":"y","type":"quantitative","scale":{"domain":[-2,14],"nice":false,"zero":false},
"axis":{"orient":"left","offset":-57,"title":null,"values":[-2,0,2,4,6,8,10,12,14],"tickSize":-8,"labelPadding":28,"labelAlign":"right","labelBaseline":"middle","labelFont":"Liberation Sans","labelFontSize":32,"labelOverlap":false,"labelFlush":false,"labelBound":false}},
"shape":{"field":"s","type":"nominal","scale":{"domain":["u","p"],"range":["M-1,0L1,0M0,-1L0,1","M-1,-1L1,1M-1,1L1,-1"]},
"legend":{"orient":"none","legendX":672,"legendY":9,"title":null,"padding":0,"labelExpr":"datum.label == 'u' ? 'underwater' : 'planetary-scale'","labelLimit":0,"labelFont":"Liberation Sans","labelFontSize":32,"labelColor":"black","labelAlign":"right","labelOffset":-77,"symbolSize":64,"symbolStrokeColor":"black","symbolStrokeWidth":1,"symbolFillColor":"transparent","rowPadding":5}}
}
},
{
"data":{"name":"junk"},
"mark":{"type":"line","stroke":"black","strokeWidth":1,"strokeDash":[8,4],"clip":true,"point":{"filled":false,"shape":"M-1,-1L1,1M-1,1L1,-1","size":64,"stroke":"black","strokeWidth":1}},
"encoding":{
"x":{"field":"x","type":"quantitative","scale":{"domain":[-1.706,7.881],"nice":false,"zero":false},
"axis":{"orient":"top","title":null,"labels":false,"values":[0,1,2,3,4,5,6,7],"tickSize":-7}},
"y":{"field":"y","type":"quantitative","scale":{"domain":[-2,14],"nice":false,"zero":false},
"axis":{"orient":"left","offset":-73,"title":null,"labels":false,"values":[-2,-0.4,1.2,2.8,4.4,6,7.6,9.2,10.8,12.4,14],"tickSize":8}}
}
},
{
"data":{"name":"stubs"},
"mark":{"type":"rule","stroke":"black","strokeWidth":1,"clip":true},
"encoding":{
"x":{"field":"x","type":"quantitative","scale":{"domain":[-1.706,7.881],"nice":false,"zero":false},"axis":null},
"x2":{"field":"x2"},
"y":{"field":"y","type":"quantitative","scale":{"domain":[-2,14],"nice":false,"zero":false},
"axis":{"orient":"right","title":null,"labels":false,"domain":false,"values":[-2,0,2,4,6,8,10,12,14],"tickSize":-8}},
"strokeDash":{"field":"d","type":"nominal","scale":{"domain":["a","b","c"],"range":[[1,0],[6,4],[2,3]]},"legend":null}
}
}
],
"resolve":{"axis":{"x":"independent","y":"independent"}}
}
